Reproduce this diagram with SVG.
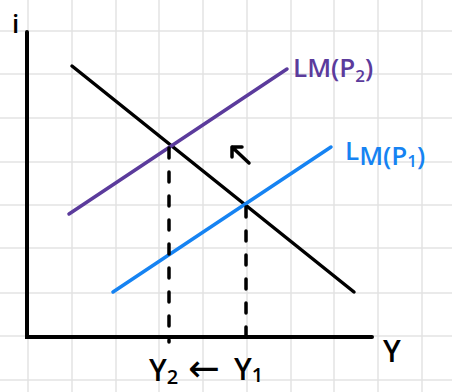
<svg xmlns="http://www.w3.org/2000/svg" width="452" height="392" viewBox="0 0 452 392">
<style>
.grid{stroke:#e3e3e3;stroke-width:1.5}
.ax{stroke:#000;stroke-width:4;fill:none;stroke-linecap:round}
.ln{stroke-width:3.5;fill:none;stroke-linecap:round}
.dash{stroke:#000;stroke-width:3.5;fill:none;stroke-dasharray:10 14;stroke-linecap:round}
.t{font-family:"Open Sans","Liberation Sans",sans-serif;font-weight:600}
</style>
<rect width="452" height="392" fill="#fff"/>
<g id="grid">
<path class="grid" d="M28 0V392M72 0V392M116 0V392M159 0V392M203 0V392M247 0V392M291 0V392M334 0V392M378 0V392M422 0V392M0 31H452M0 74H452M0 118H452M0 162H452M0 205H452M0 248H452M0 293H452M0 336H452M0 380H452"/>
</g>
<g id="axes">
<path class="ax" d="M27 32V337H372"/>
<text class="t" x="12" y="33" font-size="26">i</text>
<text class="t" x="383" y="362" font-size="30">Y</text>
</g>
<g id="connectors">
<path class="ln" stroke="#000" d="M72 66L354 292"/>
<path class="ln" stroke="#5b3b9c" d="M69 214L287 69"/>
<path class="ln" stroke="#1683f2" d="M113 292L331 147"/>
<path class="dash" d="M169 148V342"/>
<path class="dash" d="M246 207V345"/>
<path d="M249 163L232 147M232 147H242M232 147V157" stroke="#000" stroke-width="3.5" fill="none" stroke-linecap="round" stroke-linejoin="round"/>
</g>
<g id="lm2"><text class="t" x="293" y="77" font-size="26" fill="#5b3b9c">LM(P<tspan font-size="17" dy="5">2</tspan><tspan dy="-5">)</tspan></text></g>
<g id="lm1"><text class="t" x="345" y="160" font-size="26" fill="#1683f2">L<tspan dy="5">M(P</tspan><tspan font-size="17" dy="2">1</tspan><tspan dy="-2">)</tspan></text></g>
<g id="y2"><text class="t" x="149" y="381" font-size="30">Y<tspan font-size="20" dy="3">2</tspan></text></g>
<g id="arrow"><text x="188" y="381" font-size="38" font-family="DejaVu Sans,sans-serif">←</text></g>
<g id="y1"><text class="t" x="234" y="380" font-size="30">Y<tspan font-size="20" dy="2">1</tspan></text></g>
</svg>
